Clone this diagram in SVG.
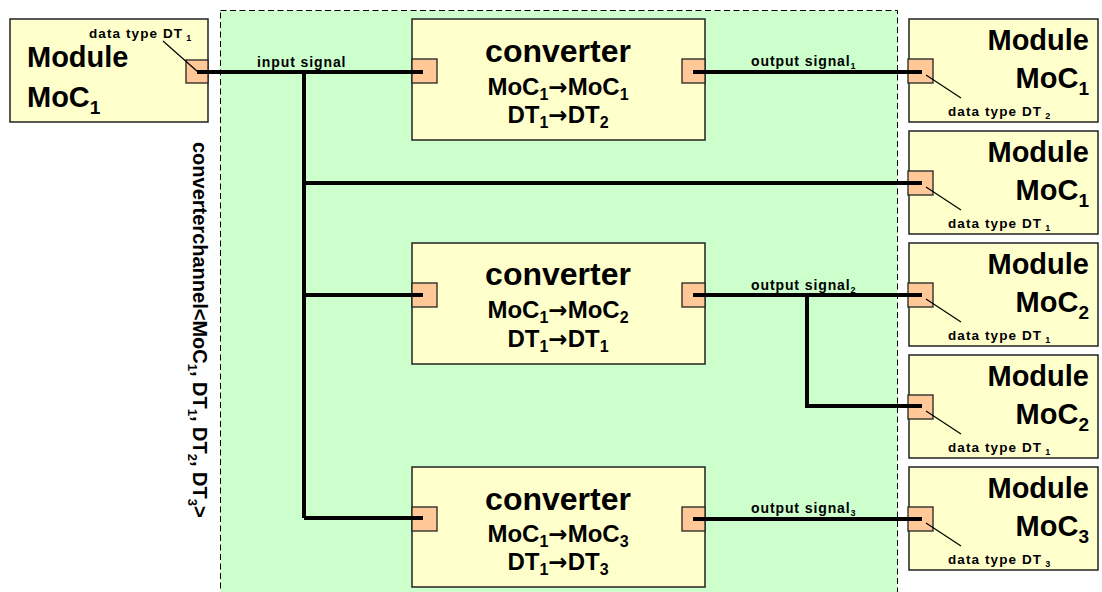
<svg xmlns="http://www.w3.org/2000/svg" width="1102" height="592" viewBox="0 0 1102 592">
<style>
text{font-family:"Liberation Sans",Arial,sans-serif;font-weight:bold;fill:#000}
.box{fill:#ffffcc;stroke:#222;stroke-width:1.5}
.port{fill:#ffc896;stroke:#222;stroke-width:1.3}
.wire{fill:none;stroke:#000;stroke-width:4}
.lead{fill:none;stroke:#000;stroke-width:1.2}
.big{font-size:29px}
.bigsub{font-size:19px}
.conv{font-size:32px}
.mid{font-size:24px}
.midsub{font-size:16px}
.arr{font-family:"DejaVu Sans",sans-serif;font-size:23px}
.small{font-size:13.5px;letter-spacing:1.1px}
.smallsub{font-size:9px}
.sig{font-size:14px;letter-spacing:0.9px}
.sigsub{font-size:9px}
</style>
<rect id="channel" x="220.5" y="10.5" width="677" height="600" fill="#ccffcc" stroke="#000" stroke-width="1" stroke-dasharray="6,3.5"/>
<text id="channel-label" font-size="20" transform="translate(193,142) rotate(90)">converterchannel&lt;MoC<tspan font-size="13" dy="5">1</tspan><tspan dy="-5">, DT</tspan><tspan font-size="13" dy="5">1</tspan><tspan dy="-5">, DT</tspan><tspan font-size="13" dy="5">2</tspan><tspan dy="-5">, DT</tspan><tspan font-size="13" dy="5">3</tspan><tspan dy="-5">&gt;</tspan></text>

<g id="module-left">
<rect class="box" x="10" y="19" width="198" height="103"/>
<rect class="port" x="186" y="60" width="22" height="23"/>
<line class="lead" x1="163" y1="41" x2="198" y2="72"/>
<text class="small" x="89" y="38">data type DT<tspan class="smallsub" dx="3" dy="3">1</tspan></text>
<text class="big" x="27" y="67">Module</text>
<text class="big" x="27" y="107">MoC<tspan class="bigsub" dy="7">1</tspan></text>
</g>

<g id="converter1">
<rect class="box" x="412" y="19" width="293" height="121"/>
<rect class="port" x="412" y="59" width="25" height="24"/>
<rect class="port" x="682" y="59" width="23" height="24"/>
<text class="conv" x="558" y="62" text-anchor="middle">converter</text>
<text class="mid" x="558" y="95" text-anchor="middle">MoC<tspan class="midsub" dy="5">1</tspan><tspan class="arr" dy="-5">→</tspan><tspan>MoC</tspan><tspan class="midsub" dy="5">1</tspan></text>
<text class="mid" x="558" y="123" text-anchor="middle">DT<tspan class="midsub" dy="5">1</tspan><tspan class="arr" dy="-5">→</tspan><tspan>DT</tspan><tspan class="midsub" dy="5">2</tspan></text>
</g>

<g id="converter2">
<rect class="box" x="412" y="243" width="293" height="121"/>
<rect class="port" x="412" y="283" width="25" height="24"/>
<rect class="port" x="682" y="283" width="23" height="24"/>
<text class="conv" x="558" y="285" text-anchor="middle">converter</text>
<text class="mid" x="558" y="318" text-anchor="middle">MoC<tspan class="midsub" dy="5">1</tspan><tspan class="arr" dy="-5">→</tspan><tspan>MoC</tspan><tspan class="midsub" dy="5">2</tspan></text>
<text class="mid" x="558" y="347" text-anchor="middle">DT<tspan class="midsub" dy="5">1</tspan><tspan class="arr" dy="-5">→</tspan><tspan>DT</tspan><tspan class="midsub" dy="5">1</tspan></text>
</g>

<g id="converter3">
<rect class="box" x="412" y="467" width="293" height="120"/>
<rect class="port" x="412" y="507" width="25" height="24"/>
<rect class="port" x="682" y="507" width="23" height="24"/>
<text class="conv" x="558" y="510" text-anchor="middle">converter</text>
<text class="mid" x="558" y="542" text-anchor="middle">MoC<tspan class="midsub" dy="5">1</tspan><tspan class="arr" dy="-5">→</tspan><tspan>MoC</tspan><tspan class="midsub" dy="5">3</tspan></text>
<text class="mid" x="558" y="570" text-anchor="middle">DT<tspan class="midsub" dy="5">1</tspan><tspan class="arr" dy="-5">→</tspan><tspan>DT</tspan><tspan class="midsub" dy="5">3</tspan></text>
</g>

<g id="module-r1">
<rect class="box" x="909" y="19" width="189" height="103"/>
<rect class="port" x="908" y="59" width="25" height="24"/>
<line class="lead" x1="926" y1="75" x2="961" y2="98"/>
<text class="big" x="1089" y="50" text-anchor="end">Module</text>
<text class="big" x="1089" y="88" text-anchor="end">MoC<tspan class="bigsub" dy="7">1</tspan></text>
<text class="small" x="948" y="116">data type DT<tspan class="smallsub" dx="3" dy="3">2</tspan></text>
</g>
<g id="module-r2">
<rect class="box" x="909" y="131" width="189" height="103"/>
<rect class="port" x="908" y="171" width="25" height="24"/>
<line class="lead" x1="926" y1="187" x2="961" y2="210"/>
<text class="big" x="1089" y="162" text-anchor="end">Module</text>
<text class="big" x="1089" y="200" text-anchor="end">MoC<tspan class="bigsub" dy="7">1</tspan></text>
<text class="small" x="948" y="228">data type DT<tspan class="smallsub" dx="3" dy="3">1</tspan></text>
</g>
<g id="module-r3">
<rect class="box" x="909" y="243" width="189" height="103"/>
<rect class="port" x="908" y="283" width="25" height="24"/>
<line class="lead" x1="926" y1="299" x2="961" y2="322"/>
<text class="big" x="1089" y="274" text-anchor="end">Module</text>
<text class="big" x="1089" y="312" text-anchor="end">MoC<tspan class="bigsub" dy="7">2</tspan></text>
<text class="small" x="948" y="340">data type DT<tspan class="smallsub" dx="3" dy="3">1</tspan></text>
</g>
<g id="module-r4">
<rect class="box" x="909" y="355" width="189" height="103"/>
<rect class="port" x="908" y="395" width="25" height="24"/>
<line class="lead" x1="926" y1="411" x2="961" y2="434"/>
<text class="big" x="1089" y="386" text-anchor="end">Module</text>
<text class="big" x="1089" y="424" text-anchor="end">MoC<tspan class="bigsub" dy="7">2</tspan></text>
<text class="small" x="948" y="452">data type DT<tspan class="smallsub" dx="3" dy="3">1</tspan></text>
</g>
<g id="module-r5">
<rect class="box" x="909" y="467" width="189" height="103"/>
<rect class="port" x="908" y="507" width="25" height="24"/>
<line class="lead" x1="926" y1="523" x2="961" y2="546"/>
<text class="big" x="1089" y="498" text-anchor="end">Module</text>
<text class="big" x="1089" y="536" text-anchor="end">MoC<tspan class="bigsub" dy="7">3</tspan></text>
<text class="small" x="948" y="564">data type DT<tspan class="smallsub" dx="3" dy="3">3</tspan></text>
</g>

<g id="connectors">
<path class="wire" d="M197 72H423"/>
<path class="wire" d="M304 72V518"/>
<path class="wire" d="M304 183H922"/>
<path class="wire" d="M304 295H423"/>
<path class="wire" d="M304 518H423"/>
<path class="wire" d="M693 72H922"/>
<path class="wire" d="M693 295H922"/>
<path class="wire" d="M807 295V406H922"/>
<path class="wire" d="M693 519H922"/>
<text class="sig" x="257" y="67">input signal</text>
<text class="sig" x="751" y="66">output signal<tspan class="sigsub" dy="3">1</tspan></text>
<text class="sig" x="751" y="290">output signal<tspan class="sigsub" dy="3">2</tspan></text>
<text class="sig" x="751" y="513">output signal<tspan class="sigsub" dy="3">3</tspan></text>
</g>
</svg>
